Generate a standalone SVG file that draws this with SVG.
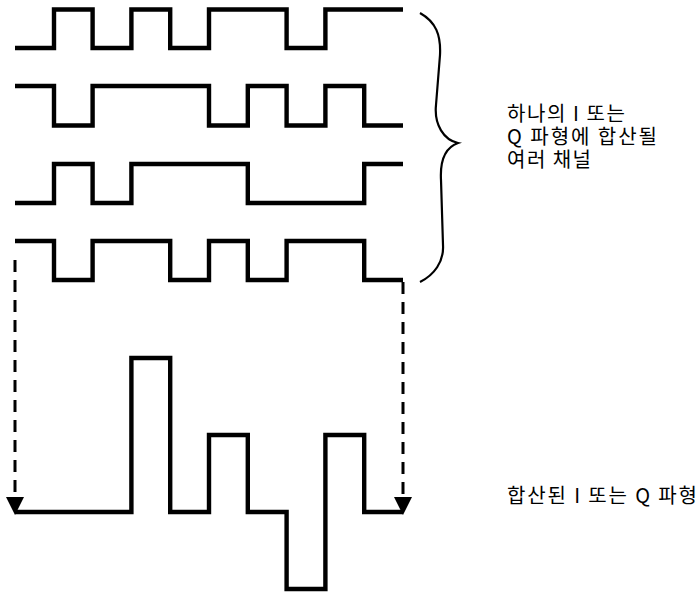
<svg xmlns="http://www.w3.org/2000/svg" width="700" height="592" viewBox="0 0 700 592">
<style>
.wave{fill:none;stroke:#000;stroke-width:4.4;stroke-linejoin:miter;stroke-linecap:butt}
.dash{fill:none;stroke:#000;stroke-width:3;stroke-dasharray:12 8}
.brace{fill:none;stroke:#000;stroke-width:2.2}
.lbl{font-family:"Noto Sans CJK KR","Liberation Sans",sans-serif;font-size:20px;fill:#000}
</style>
<defs>
<marker id="ah" markerUnits="userSpaceOnUse" markerWidth="18" markerHeight="18" refX="0" refY="8" orient="auto" viewBox="0 0 16 16">
<path d="M0,0 L16,8 L0,16 z" fill="#000"/>
</marker>
</defs>
<g id="channel1"><polyline class="wave" points="15,48 54,48 54,9.5 92.6,9.5 92.6,48 131.4,48 131.4,9.5 170.2,9.5 170.2,48 209,48 209,9.5 286.6,9.5 286.6,48 325.4,48 325.4,9.5 403,9.5"/></g>
<g id="channel2"><polyline class="wave" points="15,86 54,86 54,125.5 92.6,125.5 92.6,86 209,86 209,125.5 247.8,125.5 247.8,86 286.6,86 286.6,125.5 325.4,125.5 325.4,86 364.2,86 364.2,125.5 403,125.5"/></g>
<g id="channel3"><polyline class="wave" points="15,203 54,203 54,164 92.6,164 92.6,203 131.4,203 131.4,164 247.8,164 247.8,203 364.2,203 364.2,164 403,164"/></g>
<g id="channel4"><polyline class="wave" points="15,241 54,241 54,280 92.6,280 92.6,241 170.2,241 170.2,280 209,280 209,241 247.8,241 247.8,280 286.6,280 286.6,241 364.2,241 364.2,280 403,280"/></g>
<g id="combined"><polyline class="wave" points="15,512 131.4,512 131.4,358 170.2,358 170.2,512 209,512 209,435 247.8,435 247.8,512 286.6,512 286.6,589 325.4,589 325.4,435 364.2,435 364.2,512 403,512"/></g>
<g id="brace"><path class="brace" d="M420,13 C436,22 441,35 440,55 L436,105 C434,125 444,140 458,143 C444,148 440,162 441,180 L443,245 C444,262 434,275 420,282"/></g>
<g id="connectors">
<line class="dash" x1="15" y1="260" x2="15" y2="497" marker-end="url(#ah)"/>
<line class="dash" x1="403" y1="282" x2="403" y2="497" marker-end="url(#ah)"/>
</g>
<g id="label-channels">
<text class="lbl" x="507" y="121" textLength="118" lengthAdjust="spacing">하나의 I 또는</text>
<text class="lbl" x="507" y="144" textLength="150" lengthAdjust="spacing">Q 파형에 합산될</text>
<text class="lbl" x="507" y="167" textLength="84" lengthAdjust="spacing">여러 채널</text>
</g>
<g id="label-combined">
<text class="lbl" x="507" y="503" textLength="190" lengthAdjust="spacing">합산된 I 또는 Q 파형</text>
</g>
</svg>
